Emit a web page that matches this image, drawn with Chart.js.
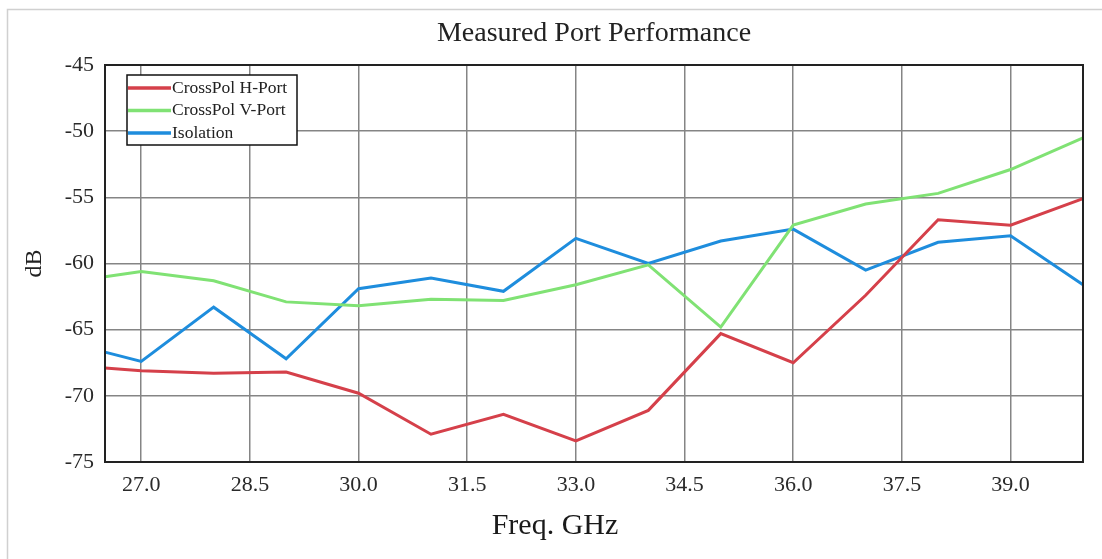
<!DOCTYPE html>
<html>
<head>
<meta charset="utf-8">
<script src="https://cdn.jsdelivr.net/npm/chart.js@4.4.1/dist/chart.umd.min.js"></script>
<style>
  html, body { margin: 0; padding: 0; background: #fff; }
  #wrap { width: 1102px; height: 559px; position: relative; }
</style>
</head>
<body>
<div id="wrap"><canvas id="c" width="1102" height="559"></canvas></div>
<script>
// ---- data ----
const freqGHz = [26.5, 27, 28, 29, 30, 31, 32, 33, 34, 35, 36, 37, 38, 39, 40];
const crossPolH = [-67.9, -68.1, -68.3, -68.2, -69.8, -72.9, -71.4, -73.4, -71.1, -65.3, -67.5, -62.4, -56.7, -57.1, -55.1];
const crossPolV = [-61.0, -60.6, -61.3, -62.9, -63.2, -62.7, -62.8, -61.6, -60.1, -64.8, -57.1, -55.5, -54.7, -52.9, -50.5];
const isolation = [-66.7, -67.4, -63.3, -67.2, -61.9, -61.1, -62.1, -58.1, -60.0, -58.3, -57.4, -60.5, -58.4, -57.9, -61.6];
const seriesNames = ['CrossPol H-Port', 'CrossPol V-Port', 'Isolation'];
const xTickValues = [27.0, 28.5, 30.0, 31.5, 33.0, 34.5, 36.0, 37.5, 39.0];
const yTickValues = [-75, -70, -65, -60, -55, -50, -45];
const chartTitle = 'Measured Port Performance';
const xAxisTitle = 'Freq. GHz';
const yAxisTitle = 'dB';

const SERIF = "'Liberation Serif', 'Times New Roman', serif";
const colors = ['#d5404a', '#80e274', '#1e8ddd'];

function pts(ys) { return freqGHz.map((x, i) => ({ x: x, y: ys[i] })); }

const frame = {
  id: 'frame',
  beforeDraw(chart) {
    const ctx = chart.ctx;
    ctx.save();
    ctx.strokeStyle = '#d0d0d0';
    ctx.lineWidth = 1.5;
    ctx.beginPath();
    ctx.moveTo(7.5, 559);
    ctx.lineTo(7.5, 9.5);
    ctx.lineTo(1102, 9.5);
    ctx.stroke();
    ctx.restore();
  },
  afterDatasetsDraw(chart) {
    const ctx = chart.ctx, a = chart.chartArea;
    ctx.save();
    ctx.strokeStyle = '#222';
    ctx.lineWidth = 2;
    ctx.strokeRect(a.left, a.top, a.right - a.left, a.bottom - a.top);
    ctx.restore();
  },
  afterDraw(chart) {
    const ctx = chart.ctx, a = chart.chartArea;
    ctx.save();
    // x axis title
    ctx.fillStyle = '#1a1a1a';
    ctx.font = "30px " + SERIF;
    ctx.textAlign = 'center';
    ctx.textBaseline = 'middle';
    ctx.fillText(xAxisTitle, 555, 526);
    // legend
    const lx = a.left + 22, ly = a.top + 10, lw = 170, lh = 70;
    ctx.fillStyle = '#fff';
    ctx.fillRect(lx, ly, lw, lh);
    ctx.strokeStyle = '#111';
    ctx.lineWidth = 1.5;
    ctx.strokeRect(lx, ly, lw, lh);
    ctx.font = "17.5px " + SERIF;
    ctx.textAlign = 'left';
    chart.data.datasets.forEach((ds, i) => {
      const yy = ly + 13 + i * 22.5;
      ctx.strokeStyle = ds.borderColor;
      ctx.lineWidth = 3.5;
      ctx.beginPath();
      ctx.moveTo(lx + 1, yy);
      ctx.lineTo(lx + 44, yy);
      ctx.stroke();
      ctx.fillStyle = '#222';
      ctx.fillText(ds.label, lx + 45, yy);
    });
    ctx.restore();
  }
};

new Chart(document.getElementById('c'), {
  type: 'line',
  data: {
    datasets: [
      { label: seriesNames[0], data: pts(crossPolH), borderColor: colors[0] },
      { label: seriesNames[1], data: pts(crossPolV), borderColor: colors[1] },
      { label: seriesNames[2], data: pts(isolation), borderColor: colors[2] }
    ].map(d => Object.assign(d, { borderWidth: 3, pointRadius: 0, tension: 0, fill: false, clip: 2 }))
  },
  options: {
    responsive: false,
    animation: false,
    events: [],
    layout: { padding: { left: 0, right: 19, top: 0, bottom: 0 } },
    plugins: {
      legend: { display: false },
      tooltip: { enabled: false },
      title: {
        display: true,
        text: chartTitle,
        fullSize: false,
        color: '#222',
        font: { family: SERIF, size: 28, weight: 'normal' },
        padding: { top: 17, bottom: 14.4 }
      }
    },
    scales: {
      x: {
        type: 'linear',
        min: 26.5,
        max: 40,
        afterBuildTicks: (axis) => { axis.ticks = xTickValues.map(v => ({ value: v })); },
        afterFit: (axis) => { axis.height = 97; },
        grid: { color: '#858585', lineWidth: 1.5, drawTicks: false },
        border: { display: false },
        ticks: {
          padding: 10,
          color: '#2a2a2a',
          font: { family: SERIF, size: 22 },
          maxRotation: 0,
          autoSkip: false,
          callback: (v) => Number(v).toFixed(1)
        }
      },
      y: {
        type: 'linear',
        min: -75,
        max: -45,
        afterBuildTicks: (axis) => { axis.ticks = yTickValues.map(v => ({ value: v })); },
        afterFit: (axis) => { axis.width = 105; },
        grid: { color: '#858585', lineWidth: 1.5, drawTicks: false },
        border: { display: false },
        title: {
          display: true,
          text: yAxisTitle,
          color: '#222',
          font: { family: SERIF, size: 24 },
          padding: { top: 20, bottom: 0 }
        },
        ticks: {
          padding: 11,
          color: '#2a2a2a',
          font: { family: SERIF, size: 22 }
        }
      }
    }
  },
  plugins: [frame]
});
</script>
</body>
</html>
